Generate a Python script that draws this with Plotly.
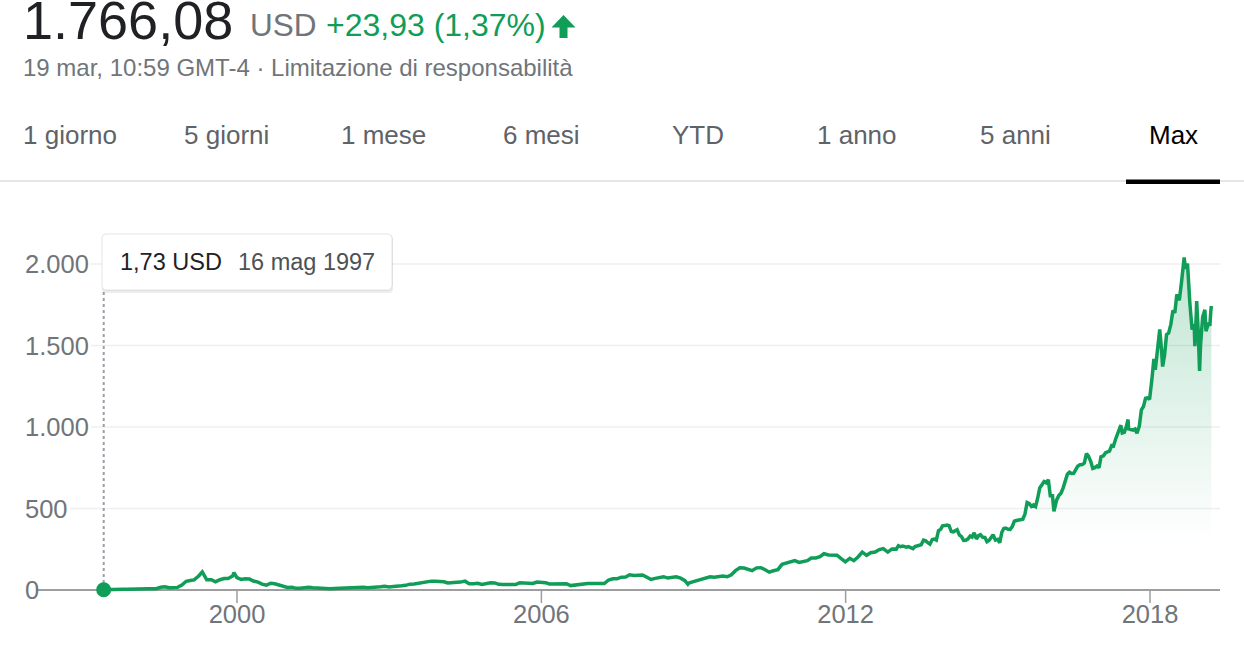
import plotly.graph_objects as go
import pandas as pd

# ---------------- data ----------------
dates = [
    "1997-05-16", "1997-05-30", "1997-06-30", "1997-07-31", "1997-08-29", "1997-09-30", "1997-10-31", "1997-11-28", "1997-12-31",
    "1998-01-30", "1998-02-27", "1998-03-31", "1998-04-30", "1998-05-29", "1998-06-30", "1998-07-31", "1998-08-31", "1998-09-30", "1998-10-30", "1998-11-30", "1998-12-31",
    "1999-01-29", "1999-02-26", "1999-03-31", "1999-04-26", "1999-04-30", "1999-05-28", "1999-06-30", "1999-07-30", "1999-08-31", "1999-09-30", "1999-10-29", "1999-11-30", "1999-12-10", "1999-12-31",
    "2000-01-31", "2000-02-29", "2000-03-31", "2000-04-28", "2000-05-31", "2000-06-30", "2000-07-31", "2000-08-31", "2000-09-29", "2000-10-31", "2000-11-30", "2000-12-29",
    "2001-01-31", "2001-02-28", "2001-03-30", "2001-04-30", "2001-05-31", "2001-06-29", "2001-07-31", "2001-08-31", "2001-09-28", "2001-10-31", "2001-11-30", "2001-12-31",
    "2002-01-31", "2002-02-28", "2002-03-28", "2002-04-30", "2002-05-31", "2002-06-28", "2002-07-31", "2002-08-30", "2002-09-30", "2002-10-31", "2002-11-29", "2002-12-31",
    "2003-01-31", "2003-02-28", "2003-03-31", "2003-04-30", "2003-05-30", "2003-06-30", "2003-07-31", "2003-08-29", "2003-09-30", "2003-10-31", "2003-11-28", "2003-12-31",
    "2004-01-30", "2004-02-27", "2004-03-31", "2004-04-30", "2004-05-28", "2004-06-30", "2004-07-30", "2004-08-31", "2004-09-30", "2004-10-29", "2004-11-30", "2004-12-31",
    "2005-01-31", "2005-02-28", "2005-03-31", "2005-04-29", "2005-05-31", "2005-06-30", "2005-07-29", "2005-08-31", "2005-09-30", "2005-10-31", "2005-11-30", "2005-12-30",
    "2006-01-31", "2006-02-28", "2006-03-31", "2006-04-28", "2006-05-31", "2006-06-30", "2006-07-31", "2006-08-31", "2006-09-29", "2006-10-31", "2006-11-30", "2006-12-29",
    "2007-01-31", "2007-02-28", "2007-03-30", "2007-04-30", "2007-05-31", "2007-06-29", "2007-07-31", "2007-08-31", "2007-09-28", "2007-10-31", "2007-11-30", "2007-12-31",
    "2008-01-31", "2008-02-29", "2008-03-31", "2008-04-30", "2008-05-30", "2008-06-30", "2008-07-31", "2008-08-29", "2008-09-30", "2008-10-31", "2008-11-21", "2008-11-28", "2008-12-31",
    "2009-01-30", "2009-02-27", "2009-03-31", "2009-04-30", "2009-05-29", "2009-06-30", "2009-07-31", "2009-08-31", "2009-09-30", "2009-10-30", "2009-11-30", "2009-12-31",
    "2010-01-29", "2010-02-26", "2010-03-31", "2010-04-30", "2010-05-28", "2010-06-30", "2010-07-30", "2010-08-31", "2010-09-30", "2010-10-29", "2010-11-30", "2010-12-31",
    "2011-01-31", "2011-02-28", "2011-03-31", "2011-04-29", "2011-05-31", "2011-06-30", "2011-07-29", "2011-08-31", "2011-09-30", "2011-10-31", "2011-11-30", "2011-12-30",
    "2012-01-31", "2012-02-29", "2012-03-30", "2012-04-30", "2012-05-31", "2012-06-29", "2012-07-31", "2012-08-31", "2012-09-28", "2012-10-31", "2012-11-30", "2012-12-31",
    "2013-01-15", "2013-01-31", "2013-02-15", "2013-02-28", "2013-03-15", "2013-03-28", "2013-04-15", "2013-04-30", "2013-05-15", "2013-05-31", "2013-06-14", "2013-06-28",
    "2013-07-15", "2013-07-31", "2013-08-15", "2013-08-30", "2013-09-16", "2013-09-30", "2013-10-15", "2013-10-31", "2013-11-15", "2013-11-29", "2013-12-16", "2013-12-31",
    "2014-01-15", "2014-01-31", "2014-02-14", "2014-02-28", "2014-03-14", "2014-03-31", "2014-04-15", "2014-04-30", "2014-05-15", "2014-05-30", "2014-06-16", "2014-06-30",
    "2014-07-15", "2014-07-31", "2014-08-15", "2014-08-29", "2014-09-15", "2014-09-30", "2014-10-15", "2014-10-31", "2014-11-14", "2014-11-28", "2014-12-15", "2014-12-31",
    "2015-01-15", "2015-01-30", "2015-02-13", "2015-02-27", "2015-03-16", "2015-03-31", "2015-04-15", "2015-04-30", "2015-05-15", "2015-05-29", "2015-06-15", "2015-06-30",
    "2015-07-15", "2015-07-31", "2015-08-14", "2015-08-31", "2015-09-15", "2015-09-30", "2015-10-15", "2015-10-30", "2015-11-16", "2015-11-30", "2015-12-15", "2015-12-31",
    "2016-01-15", "2016-01-29", "2016-02-09", "2016-02-29", "2016-03-15", "2016-03-31", "2016-04-15", "2016-04-29", "2016-05-16", "2016-05-31", "2016-06-15", "2016-06-30",
    "2016-07-15", "2016-07-29", "2016-08-15", "2016-08-31", "2016-09-15", "2016-09-30", "2016-10-14", "2016-10-31", "2016-11-15", "2016-11-30", "2016-12-15", "2016-12-30",
    "2017-01-13", "2017-01-31", "2017-02-15", "2017-02-28", "2017-03-15", "2017-03-31", "2017-04-13", "2017-04-28", "2017-05-15", "2017-05-31", "2017-06-05", "2017-06-15", "2017-06-30",
    "2017-07-14", "2017-07-27", "2017-07-31", "2017-08-15", "2017-08-31", "2017-09-15", "2017-09-29", "2017-10-16", "2017-10-31", "2017-11-15", "2017-11-30", "2017-12-15", "2017-12-29",
    "2018-01-16", "2018-01-29", "2018-02-08", "2018-02-28", "2018-03-12", "2018-03-23", "2018-04-02", "2018-04-16", "2018-04-30", "2018-05-15", "2018-05-31", "2018-06-15", "2018-06-29",
    "2018-07-13", "2018-07-31", "2018-08-15", "2018-08-31", "2018-09-04", "2018-09-14", "2018-09-28", "2018-10-15", "2018-10-26", "2018-10-31", "2018-11-15", "2018-11-20", "2018-11-30",
    "2018-12-03", "2018-12-14", "2018-12-24", "2018-12-31",
    "2019-01-15", "2019-01-31", "2019-02-08", "2019-02-28", "2019-03-08", "2019-03-15", "2019-03-19",
]
prices = [
    1.73, 1.48, 1.56, 2.55, 2.30, 4.27, 4.29, 3.98, 5.05,
    4.88, 5.35, 7.01, 7.93, 8.10, 16.6, 19.8, 14.3, 13.6, 16.1, 30.3, 53.5,
    58.5, 61.8, 85.9, 110.6, 104.9, 62.9, 62.6, 49.9, 63.2, 70.7, 70.6, 85.1, 106.7, 76.1,
    64.6, 68.9, 67.0, 55.2, 48.3, 36.3, 30.1, 41.5, 38.4, 29.0, 24.7, 15.6,
    17.3, 10.2, 10.2, 15.8, 16.7, 14.2, 12.5, 8.9, 6.0, 7.0, 9.5, 10.8,
    14.2, 14.1, 14.3, 16.7, 18.2, 16.3, 13.9, 14.9, 15.9, 19.4, 23.4, 18.9,
    21.9, 22.0, 26.0, 28.7, 35.9, 36.3, 41.6, 46.3, 48.4, 54.4, 54.0, 52.6,
    50.4, 43.0, 43.3, 43.6, 48.5, 54.4, 38.9, 38.1, 40.9, 34.1, 40.0, 44.3,
    43.2, 34.9, 34.3, 32.4, 35.5, 33.1, 45.0, 42.7, 45.3, 39.9, 48.5, 47.2,
    45.0, 37.4, 36.5, 35.2, 34.6, 38.7, 27.0, 30.8, 32.1, 38.1, 40.3, 39.5,
    37.7, 39.1, 39.8, 61.3, 69.1, 68.4, 78.5, 79.9, 93.2, 89.2, 90.6, 92.6,
    77.7, 64.5, 71.3, 78.6, 81.6, 73.3, 76.3, 80.8, 72.8, 57.2, 35.0, 42.7, 51.3,
    58.8, 64.8, 73.4, 80.5, 78.0, 83.7, 85.8, 81.2, 93.4, 118.8, 135.9, 134.5,
    125.4, 118.4, 135.8, 137.1, 125.5, 109.3, 117.9, 124.8, 157.1, 165.2, 175.4, 180.0,
    169.6, 173.3, 180.1, 195.8, 196.7, 204.5, 222.5, 215.2, 216.2, 213.5, 192.3, 173.1,
    194.4, 179.7, 202.5, 231.9, 212.9, 228.4, 233.3, 248.3, 254.3, 232.9, 252.1, 250.9,
    272.0, 265.5, 269.0, 264.3, 263.0, 266.5, 257.0, 253.8, 267.0, 269.2, 273.0, 277.7,
    306.0, 301.2, 290.0, 281.0, 310.0, 312.6, 306.0, 364.0, 372.0, 393.6, 395.0, 398.8,
    395.0, 358.7, 357.0, 362.1, 370.0, 336.4, 327.0, 304.1, 305.0, 312.6, 331.0, 324.8,
    351.0, 313.0, 333.0, 339.0, 323.0, 322.4, 296.0, 305.5, 327.0, 338.6, 306.0, 310.4,
    290.0, 354.5, 377.0, 380.2, 373.0, 372.1, 389.0, 421.8, 426.0, 429.2, 432.0, 434.1,
    465.0, 536.2, 531.0, 512.9, 522.0, 511.9, 563.0, 625.9, 647.0, 664.8, 658.0, 675.9,
    570.0, 587.0, 482.1, 552.5, 579.0, 593.6, 625.0, 659.6, 710.0, 722.8, 715.0, 715.6,
    735.0, 758.8, 768.0, 769.2, 779.0, 837.3, 822.0, 789.8, 746.0, 750.6, 761.0, 749.9,
    817.0, 823.5, 842.0, 845.0, 852.0, 886.5, 884.0, 925.0, 959.0, 994.6, 1011.0, 964.0, 968.0,
    1001.0, 1046.0, 987.8, 983.0, 980.6, 987.0, 961.4, 1006.0, 1105.3, 1126.0, 1176.8, 1179.0, 1169.5,
    1304.0, 1417.0, 1350.5, 1512.5, 1598.0, 1495.0, 1371.0, 1441.0, 1566.1, 1576.0, 1629.6, 1715.0, 1699.8,
    1813.0, 1777.4, 1882.0, 2012.7, 2039.5, 1970.0, 2003.0, 1760.0, 1642.8, 1598.0, 1631.0, 1495.5, 1690.2,
    1772.4, 1591.0, 1344.0, 1502.0,
    1674.0, 1718.7, 1588.2, 1639.8, 1620.0, 1712.4, 1742.0,
]

y_tick_values = [0, 500, 1000, 1500, 2000]
y_tick_labels = ["0", "500", "1.000", "1.500", "2.000"]
x_tick_dates = ["2000-01-01", "2006-01-01", "2012-01-01", "2018-01-01"]
x_tick_labels = ["2000", "2006", "2012", "2018"]
tab_labels = ["1 giorno", "5 giorni", "1 mese", "6 mesi", "YTD", "1 anno", "5 anni", "Max"]
selected_tab = "Max"

last_price = 1766.08
currency = "USD"
change_abs = 23.93
change_pct = 1.37
timestamp_text = "19 mar, 10:59 GMT-4 · Limitazione di responsabilità"
mesi = ["gen", "feb", "mar", "apr", "mag", "giu", "lug", "ago", "set", "ott", "nov", "dic"]

# ---------------- layout geometry (pixels) ----------------
W, H = 1244, 662
PL, PR, PT, PB = 36, 1220, 220, 596
ZERO_PX, Y2000_PX = 590, 264
X2000_PX, X2018_PX = 237, 1150

FONT = "Liberation Sans, Arial, Helvetica, sans-serif"
GREEN = "#0f9d58"
GRAY_TXT = "#70757a"


def fx(p):
    return (p - PL) / (PR - PL)


def fy(p):
    return (PB - p) / (PB - PT)


upp = 2000.0 / (ZERO_PX - Y2000_PX)
y_range = [-(PB - ZERO_PX) * upp, (ZERO_PX - PT) * upp]

d0 = pd.Timestamp("2000-01-01")
d1 = pd.Timestamp("2018-01-01")
dpp = (d1 - d0).days / (X2018_PX - X2000_PX)
x_range = [d0 - pd.Timedelta(days=(X2000_PX - PL) * dpp), d1 + pd.Timedelta(days=(PR - X2018_PX) * dpp)]


def it_num(v):
    s = f"{v:,.2f}"
    return s.replace(",", "X").replace(".", ",").replace("X", ".")


fig = go.Figure()

fig.add_trace(go.Scatter(
    x=dates, y=prices, mode="lines",
    line=dict(color=GREEN, width=3.5),
    fill="tozeroy",
    fillgradient=dict(type="vertical",
                      colorscale=[[0, "rgba(15,157,88,0)"], [1, "rgba(15,157,88,0.26)"]],
                      start=300, stop=2000),
    hoverinfo="skip", showlegend=False,
))
fig.add_trace(go.Scatter(
    x=[dates[0]], y=[prices[0]], mode="markers",
    marker=dict(color=GREEN, size=15),
    cliponaxis=False, hoverinfo="skip", showlegend=False,
))

shapes = []
annotations = []

# y gridlines starting after their labels
char_w = {"0": 0.556, "1": 0.556, "2": 0.556, "5": 0.556, ".": 0.278}
AX_FS = 25.5
for v, lab in zip(y_tick_values, y_tick_labels):
    annotations.append(dict(text=lab, x=fx(23), y=v, xref="paper", yref="y",
                            xanchor="left", yanchor="middle", showarrow=False,
                            font=dict(family=FONT, size=AX_FS, color=GRAY_TXT)))
    if v == 0:
        continue
    wlab = sum(char_w[c] for c in lab) * AX_FS
    shapes.append(dict(type="line", xref="paper", yref="y", x0=fx(24 + wlab + 3), x1=1,
                       y0=v, y1=v, line=dict(color="#efefef", width=1.5), layer="below"))

# x tick marks
for d in x_tick_dates:
    shapes.append(dict(type="line", xref="x", yref="paper", x0=d, x1=d,
                       y0=fy(ZERO_PX), y1=fy(603), line=dict(color="#9e9e9e", width=1.5)))

# hover: dashed guide, tooltip
hd = pd.Timestamp(dates[0])
shapes.append(dict(type="line", xref="x", yref="paper", x0=dates[0], x1=dates[0],
                   y0=fy(292), y1=fy(ZERO_PX), line=dict(color="#9aa0a6", width=2, dash="3px,3px"),
                   layer="below"))


def rrect(x0, y0, x1, y1, r):
    rx = r / (PR - PL)
    ry = r / (PB - PT)
    X0, X1 = fx(x0), fx(x1)
    Y0, Y1 = fy(y0), fy(y1)  # Y0 top (larger), Y1 bottom
    return (f"M {X0+rx},{Y0} L {X1-rx},{Y0} Q {X1},{Y0} {X1},{Y0-ry} "
            f"L {X1},{Y1+ry} Q {X1},{Y1} {X1-rx},{Y1} L {X0+rx},{Y1} Q {X0},{Y1} {X0},{Y1+ry} "
            f"L {X0},{Y0-ry} Q {X0},{Y0} {X0+rx},{Y0} Z")


shapes.append(dict(type="path", xref="paper", yref="paper", path=rrect(102, 235, 393, 293, 4),
                   fillcolor="rgba(0,0,0,0.07)", line=dict(width=0), layer="above"))
shapes.append(dict(type="path", xref="paper", yref="paper", path=rrect(102, 234, 392, 290, 4),
                   fillcolor="white", line=dict(color="rgba(0,0,0,0.10)", width=1), layer="above"))
annotations.append(dict(text=f"{it_num(prices[0])} {currency}", x=fx(118), y=fy(262),
                        xref="paper", yref="paper", xanchor="left", yanchor="middle", showarrow=False,
                        font=dict(family=FONT, size=23.5, color="#202124")))
annotations.append(dict(text=f"{hd.day} {mesi[hd.month-1]} {hd.year}", x=fx(236), y=fy(262),
                        xref="paper", yref="paper", xanchor="left", yanchor="middle", showarrow=False,
                        font=dict(family=FONT, size=23.5, color="#4d5156")))

# header
annotations.append(dict(text=it_num(last_price), x=fx(21), y=fy(19.5), xref="paper", yref="paper",
                        xanchor="left", yanchor="middle", showarrow=False,
                        font=dict(family=FONT, size=54, color="#202124")))
annotations.append(dict(text=currency, x=fx(248), y=fy(25), xref="paper", yref="paper",
                        xanchor="left", yanchor="middle", showarrow=False,
                        font=dict(family=FONT, size=31.5, color=GRAY_TXT)))
annotations.append(dict(text=f"+{it_num(change_abs)} ({it_num(change_pct)}%)", x=fx(324), y=fy(25),
                        xref="paper", yref="paper", xanchor="left", yanchor="middle", showarrow=False,
                        font=dict(family=FONT, size=32, color=GREEN)))
arrow_pts = [(563.5, 15), (575.5, 27.5), (567.5, 27.5), (567.5, 38), (559.5, 38), (559.5, 27.5), (551.5, 27.5)]
shapes.append(dict(type="path", xref="paper", yref="paper",
                   path="M " + " L ".join(f"{fx(a)},{fy(b)}" for a, b in arrow_pts) + " Z",
                   fillcolor=GREEN, line=dict(width=0)))
annotations.append(dict(text=timestamp_text, x=fx(21), y=fy(67), xref="paper", yref="paper",
                        xanchor="left", yanchor="middle", showarrow=False,
                        font=dict(family=FONT, size=24, color=GRAY_TXT)))

# tabs
tab_centers = [70, 226, 383, 541, 698, 857, 1015, 1173]
for lab, cx in zip(tab_labels, tab_centers):
    annotations.append(dict(text=lab, x=fx(cx), y=fy(135), xref="paper", yref="paper",
                            xanchor="center", yanchor="middle", showarrow=False,
                            font=dict(family=FONT, size=26,
                                      color="#000000" if lab == selected_tab else "#5f6368")))
shapes.append(dict(type="line", xref="paper", yref="paper", x0=fx(0), x1=fx(W), y0=fy(181), y1=fy(181),
                   line=dict(color="#e6e6e6", width=2)))
shapes.append(dict(type="rect", xref="paper", yref="paper", x0=fx(1126), x1=fx(1220), y0=fy(184), y1=fy(179.5),
                   fillcolor="#000000", line=dict(width=0)))

fig.update_layout(
    width=W, height=H,
    margin=dict(l=PL, r=W - PR, t=PT, b=H - PB),
    paper_bgcolor="white", plot_bgcolor="white",
    showlegend=False, hovermode=False,
    xaxis=dict(type="date", range=x_range, showgrid=False, zeroline=False, showline=False,
               tickvals=x_tick_dates, ticktext=x_tick_labels, ticks="",
               tickfont=dict(family=FONT, size=AX_FS, color=GRAY_TXT), fixedrange=True),
    yaxis=dict(range=y_range, showgrid=False, showticklabels=False, ticks="",
               zeroline=True, zerolinecolor="#9e9e9e", zerolinewidth=2, fixedrange=True),
    shapes=shapes, annotations=annotations,
)

fig.write_html("out.html", config={"displayModeBar": False, "staticPlot": True},
               post_script="document.body.style.margin='0';")
